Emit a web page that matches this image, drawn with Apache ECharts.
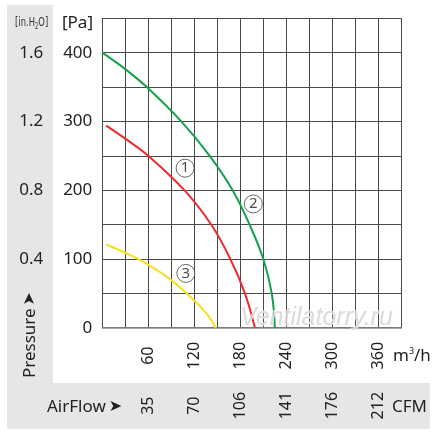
<!DOCTYPE html>
<html>
<head>
<meta charset="utf-8">
<script src="https://cdn.jsdelivr.net/npm/echarts@6/dist/echarts.min.js"></script>
<style>
html,body{margin:0;padding:0;background:#fff;}
#c{width:444px;height:438px;}
</style>
</head>
<body>
<div id="c"></div>
<script>
// Curve 1 (red)
const flow1 = [5, 30, 60, 107, 142, 167, 186, 199];
const press1 = [294, 275, 250, 200, 150, 100, 50, 0];
// Curve 2 (green)
const flow2 = [0, 30, 58, 103, 140, 170, 192, 210, 221, 225];
const press2 = [400, 376, 350, 300, 250, 200, 150, 100, 50, 0];
// Curve 3 (yellow)
const flow3 = [5, 30, 50, 83, 110, 135, 148];
const press3 = [121, 109, 98, 75, 50, 22, 0];

// Tick labels
const flowTicks = [60, 120, 180, 240, 300, 360];
const cfmLabels = ['35', '70', '106', '141', '176', '212'];
const paTicks = [0, 100, 200, 300, 400];
const inH2OTicks = [100, 200, 300, 400];
const inH2OLabels = ['0.4', '0.8', '1.2', '1.6'];

// Curve markers
const markFlow = [108, 197, 109];
const markPress = [232, 180, 79];
const markText = ['1', '2', '3'];

const zip = (a, b) => a.map((v, i) => [v, b[i]]);
const FONT = 'Noto Sans, DejaVu Sans, sans-serif';
const TXT = '#222';

const chart = echarts.init(document.getElementById('c'), null, {renderer: 'canvas'});

const baseX = {
  type: 'value', min: 0, max: 390, interval: 30,
  axisTick: {show: false}
};
const baseY = {
  type: 'value', min: 0, max: 450, interval: 50,
  axisTick: {show: false}
};

chart.setOption({
  animation: false,
  backgroundColor: '#fff',
  grid: {left: 102.3, top: 18.3, width: 299, height: 309.4, containLabel: false},
  xAxis: [
    Object.assign({}, baseX, {
      position: 'bottom',
      axisLine: {show: true, lineStyle: {color: '#8a8a8a', width: 1.5}},
      splitLine: {show: true, lineStyle: {color: '#4a4a4a', width: 1}},
      axisLabel: {
        rotate: 90, align: 'center', verticalAlign: 'middle', margin: 28,
        fontSize: 16, fontFamily: FONT, color: TXT,
        formatter: v => flowTicks.indexOf(v) >= 0 ? String(v) : ''
      }
    }),
    Object.assign({}, baseX, {
      position: 'bottom', offset: 50,
      axisLine: {show: false},
      splitLine: {show: false},
      axisLabel: {
        rotate: 90, align: 'center', verticalAlign: 'middle', margin: 28,
        fontSize: 16, fontFamily: FONT, color: TXT,
        formatter: v => { const i = flowTicks.indexOf(v); return i >= 0 ? cfmLabels[i] : ''; }
      }
    })
  ],
  yAxis: [
    Object.assign({}, baseY, {
      position: 'left',
      axisLine: {show: true, lineStyle: {color: '#4a4a4a', width: 1}},
      splitLine: {show: true, lineStyle: {color: '#4a4a4a', width: 1}},
      axisLabel: {
        margin: 10, fontSize: 17, fontFamily: FONT, color: TXT,
        formatter: v => paTicks.indexOf(v) >= 0 ? String(v) : ''
      }
    }),
    Object.assign({}, baseY, {
      position: 'left', offset: 49,
      axisLine: {show: false},
      splitLine: {show: false},
      axisLabel: {
        margin: 10, fontSize: 17, fontFamily: FONT, color: TXT,
        formatter: v => { const i = inH2OTicks.indexOf(v); return i >= 0 ? inH2OLabels[i] : ''; }
      }
    })
  ],
  graphic: [
    {type: 'rect', z: -100, shape: {x: 7, y: 5, width: 46, height: 378}, style: {fill: '#e6e6e6'}},
    {type: 'rect', z: -100, shape: {x: 7, y: 383, width: 423, height: 46}, style: {fill: '#e6e6e6'}},
    {type: 'text', x: 15, y: 23, scaleX: 0.72, style: {
      text: '{a|[in.H}{s|2}{a|O]}', align: 'left', verticalAlign: 'middle', rich: {
        a: {fontSize: 13, fontFamily: 'DejaVu Sans Condensed, Liberation Sans Narrow, sans-serif', fill: '#333'},
        s: {fontSize: 8, fontFamily: 'DejaVu Sans Condensed, sans-serif', fill: '#333', padding: [7, 0, 0, 0]}
      }}},
    {type: 'text', x: 93, y: 23, style: {text: '[Pa]', fontSize: 17, fontFamily: FONT, fill: TXT, align: 'right', verticalAlign: 'middle'}},
    {type: 'text', x: 393, y: 356, style: {
      text: '{a|m}{s|3}{a|/h}', align: 'left', verticalAlign: 'middle', rich: {
        a: {fontSize: 17, fontFamily: FONT, fill: TXT},
        s: {fontSize: 9, fontFamily: FONT, fill: TXT, padding: [0, 0, 10, 0]}
      }}},
    {type: 'text', x: 392, y: 407, style: {text: 'CFM', fontSize: 17, fontFamily: FONT, fill: TXT, align: 'left', verticalAlign: 'middle'}},
    {type: 'text', x: 47, y: 407, style: {
      text: '{a|AirFlow}{b|➤}', align: 'left', verticalAlign: 'middle', rich: {
        a: {fontSize: 17, fontFamily: FONT, fill: TXT},
        b: {fontSize: 16, fontFamily: 'DejaVu Sans, sans-serif', fill: TXT, padding: [0, 0, 0, 3]}
      }}},
    {type: 'text', x: 30, y: 335, rotation: Math.PI / 2, style: {
      text: '{a|Pressure}{b|➤}', align: 'center', verticalAlign: 'middle', rich: {
        a: {fontSize: 17, fontFamily: FONT, fill: TXT},
        b: {fontSize: 16, fontFamily: 'DejaVu Sans, sans-serif', fill: TXT, padding: [0, 0, 0, 3]}
      }}},
    {type: 'text', x: 240, y: 318, z: 10, style: {
      text: 'Ventilatorry.ru', fontSize: 25, fontStyle: 'italic', fontFamily: 'Liberation Sans, Arial, sans-serif',
      fill: 'rgba(210,210,210,0.8)', stroke: 'rgba(255,255,255,0.9)', lineWidth: 1,
      align: 'left', verticalAlign: 'middle'}}
  ],
  series: [
    {type: 'line', name: '1', xAxisIndex: 0, yAxisIndex: 0, data: zip(flow1, press1),
      smooth: 0.4, showSymbol: false, lineStyle: {color: '#ee2a2d', width: 2}, z: 3},
    {type: 'line', name: '2', xAxisIndex: 0, yAxisIndex: 0, data: zip(flow2, press2),
      smooth: 0.4, showSymbol: false, lineStyle: {color: '#13a24b', width: 2}, z: 3},
    {type: 'line', name: '3', xAxisIndex: 0, yAxisIndex: 0, data: zip(flow3, press3),
      smooth: 0.4, showSymbol: false, lineStyle: {color: '#f7e11e', width: 2}, z: 3},
    {type: 'scatter', xAxisIndex: 0, yAxisIndex: 0,
      data: markFlow.map((v, i) => ({value: [v, markPress[i]], label: {formatter: markText[i]}})),
      symbol: 'circle', symbolSize: 18,
      itemStyle: {color: '#fff', borderColor: '#444', borderWidth: 1},
      label: {show: true, position: 'inside', fontSize: 15, fontFamily: FONT, color: '#222'},
      z: 5}
  ]
});
</script>
</body>
</html>
